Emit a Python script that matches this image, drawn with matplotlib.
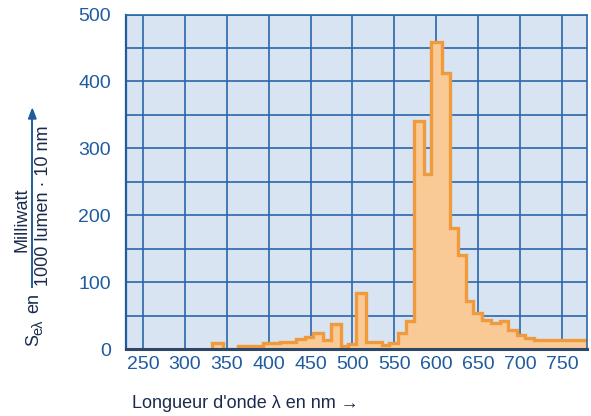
import matplotlib.pyplot as plt
import numpy as np

plt.rcParams['font.family'] = ['Liberation Sans', 'DejaVu Sans']

# spectrum, 10 nm bands (edges in nm, values in mW / 1000 lm / 10 nm)
edges = [332, 346, 363, 393, 413, 433, 443, 453, 465, 474, 486, 495, 504, 516, 535, 544, 554,
         564, 573, 586, 594, 607, 616, 626, 636, 644, 655, 665, 676, 686, 696, 706, 717, 785]
values = [8.5, 0, 5, 8.5, 11, 14.5, 17.5, 23.5, 13.5, 38, 5, 8, 83, 10.5, 6, 8.5, 23.5,
          42, 341, 262, 459, 413, 181, 141, 72, 54, 43, 38.5, 42, 28.5, 21, 16, 13.5]
xticks = [250, 300, 350, 400, 450, 500, 550, 600, 650, 700, 750]
yticks = [0, 100, 200, 300, 400, 500]

W, H = 591, 416
fig = plt.figure(figsize=(W / 100, H / 100), dpi=100)
ax = fig.add_axes([126.3 / W, 1 - 349 / H, (587 - 126.3) / W, (349 - 14.5) / H])

blue = '#1f5b9f'
navy = '#1b2b4d'
ax.set_facecolor('#d8e4f1')
ax.stairs(values, edges, fill=True, color='#f9ca96', zorder=2)
ax.stairs(values, edges, color='#f09a3e', lw=2.4, zorder=3)

ax.set_xlim(230, 780)
ax.set_ylim(0, 500)
ax.set_xticks(xticks)
ax.set_yticks(yticks)
ax.set_xticks(np.arange(250, 781, 50), minor=True)
ax.set_yticks(np.arange(0, 501, 50), minor=True)
ax.grid(True, which='both', color='#2b67ab', lw=1.2, zorder=1)
ax.set_axisbelow(True)
ax.tick_params(which='both', length=0, labelsize=14, labelcolor=blue)
ax.tick_params(axis='y', pad=11)
ax.tick_params(axis='x', pad=5)

for s in ax.spines.values():
    s.set_color('#2b67ab')
    s.set_linewidth(1.2)
    s.set_zorder(4)
ax.spines['bottom'].set_color('#2d4768')
ax.spines['bottom'].set_linewidth(2.2)
ax.spines['left'].set_color('#1f5b9f')
ax.spines['left'].set_linewidth(1.6)


def px(x, y):
    return x / W, 1 - y / H


fig.text(*px(131.7, 404), "Longueur d'onde λ en nm →", fontsize=13, color=navy,
         ha='left', va='center')

# y label: S_eλ en  Milliwatt / (1000 lumen · 10 nm) with arrow
fig.text(*px(34, 340), 'S', fontsize=13, color=navy, rotation=90, ha='center', va='center')
fig.text(*px(38.5, 327), 'eλ', fontsize=10.5, color=navy, rotation=90, ha='center', va='center')
fig.text(*px(34, 303), 'en', fontsize=13, color=navy, rotation=90, ha='center', va='center')
fig.text(*px(22, 220), 'Milliwatt', fontsize=13, color=navy,
         rotation=90, ha='center', va='center')
fig.text(*px(44, 206), '1000 lumen · 10 nm', fontsize=13, color=navy,
         rotation=90, ha='center', va='center')
fig.add_artist(plt.Line2D([32.3 / W, 32.3 / W], [1 - 287 / H, 1 - 118 / H],
                          color=blue, lw=1.4, transform=fig.transFigure))
fig.add_artist(plt.Polygon([px(28.5, 119), px(36.1, 119), px(32.3, 109)], closed=True,
                           color=blue, transform=fig.transFigure))

fig.savefig('out.png', dpi=100)
